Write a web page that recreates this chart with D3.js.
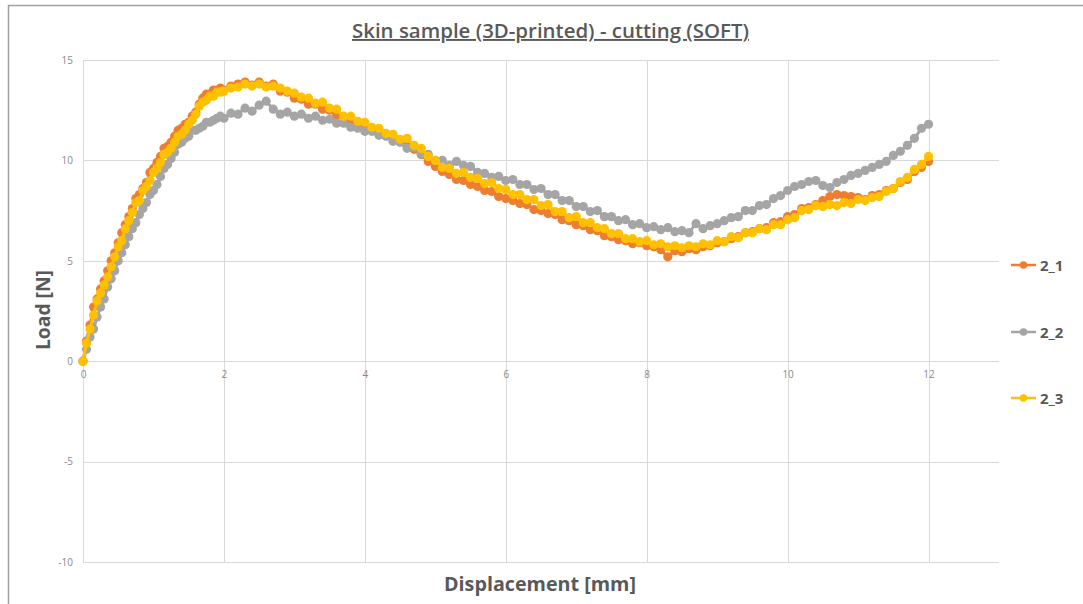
<!DOCTYPE html>
<html>
<head>
<meta charset="utf-8">
<script src="https://cdn.jsdelivr.net/npm/d3@7"></script>
<style>
  html, body { margin: 0; padding: 0; background: #ffffff; }
  svg { display: block; }
  text { font-family: "Open Sans", "Noto Sans", sans-serif; }
</style>
</head>
<body>
<svg id="chart" width="1083" height="604"></svg>
<script>
// Displacement samples [mm] shared by all three runs
const displacement = [
  0,0.05,0.1,0.15,0.2,0.25,0.3,0.35,0.4,0.45,0.5,0.55,0.6,0.65,0.7,0.75,0.8,0.85,0.9,0.95,
  1,1.05,1.1,1.15,1.2,1.25,1.3,1.35,1.4,1.45,1.5,1.55,1.6,1.65,1.7,1.75,1.8,1.85,1.9,1.95,
  2,2.1,2.2,2.3,2.4,2.5,2.6,2.7,2.8,2.9,
  3,3.1,3.2,3.3,3.4,3.5,3.6,3.7,3.8,3.9,
  4,4.1,4.2,4.3,4.4,4.5,4.6,4.7,4.8,4.9,
  5,5.1,5.2,5.3,5.4,5.5,5.6,5.7,5.8,5.9,
  6,6.1,6.2,6.3,6.4,6.5,6.6,6.7,6.8,6.9,
  7,7.1,7.2,7.3,7.4,7.5,7.6,7.7,7.8,7.9,
  8,8.1,8.2,8.3,8.4,8.5,8.6,8.7,8.8,8.9,
  9,9.1,9.2,9.3,9.4,9.5,9.6,9.7,9.8,9.9,
  10,10.1,10.2,10.3,10.4,10.5,10.6,10.7,10.8,10.9,
  11,11.1,11.2,11.3,11.4,11.5,11.6,11.7,11.8,11.9,
  12
];

// Load [N] for run 2_1
const load_2_1 = [
  0,1.0,1.8,2.7,3.1,3.6,4.0,4.5,5.0,5.4,5.9,6.4,6.8,7.2,7.6,8.1,8.3,8.6,8.9,9.4,
  9.6,9.9,10.2,10.6,10.7,10.9,11.2,11.5,11.6,11.8,11.9,12.2,12.4,12.8,13.1,13.3,13.3,13.5,13.5,13.6,
  13.5,13.7,13.8,13.9,13.75,13.9,13.7,13.8,13.45,13.4,
  13.1,13.05,12.8,12.8,12.55,12.5,12.25,12.15,11.95,11.9,
  11.7,11.6,11.35,11.3,11.05,10.95,10.7,10.55,10.3,9.95,
  9.7,9.45,9.3,9.05,9.0,8.8,8.7,8.5,8.45,8.2,
  8.1,8.0,7.85,7.8,7.55,7.5,7.35,7.3,7.05,7.0,
  6.8,6.75,6.55,6.5,6.25,6.2,6.05,6.0,5.85,5.9,
  5.75,5.7,5.55,5.2,5.5,5.45,5.6,5.55,5.7,5.75,
  5.9,5.95,6.1,6.2,6.4,6.45,6.6,6.65,6.9,6.95,
  7.2,7.3,7.6,7.65,7.8,8.0,8.2,8.3,8.25,8.2,
  8.15,8.05,8.25,8.3,8.5,8.6,8.9,9.05,9.45,9.65,
  9.95
];

// Load [N] for run 2_2
const load_2_2 = [
  0,0.6,1.2,1.6,2.2,2.7,3.1,3.7,4.1,4.5,5.0,5.4,5.8,6.2,6.6,6.9,7.3,7.6,7.9,8.3,
  8.5,8.8,9.2,9.6,9.8,10.1,10.4,10.8,10.9,11.1,11.2,11.5,11.5,11.6,11.7,11.9,11.9,12.0,12.1,12.2,
  12.1,12.35,12.3,12.6,12.45,12.75,12.95,12.55,12.3,12.4,
  12.2,12.3,12.1,12.2,12.0,12.05,11.85,11.85,11.65,11.6,
  11.45,11.45,11.25,11.2,10.95,10.9,10.6,10.65,10.35,10.3,
  10.0,10.0,9.75,9.95,9.75,9.7,9.4,9.35,9.15,9.2,
  9.0,9.05,8.8,8.8,8.55,8.6,8.3,8.3,8.0,8.0,
  7.7,7.7,7.45,7.5,7.2,7.2,7.0,7.05,6.8,6.85,
  6.65,6.7,6.55,6.65,6.45,6.5,6.4,6.85,6.6,6.75,
  6.85,7.0,7.15,7.2,7.5,7.5,7.75,7.8,8.1,8.25,
  8.5,8.7,8.8,8.95,9.0,8.75,8.65,8.9,9.05,9.25,
  9.35,9.5,9.65,9.8,9.95,10.25,10.45,10.75,11.1,11.6,
  11.8
];

// Load [N] for run 2_3
const load_2_3 = [
  0,0.9,1.6,2.3,3.0,3.4,3.8,4.2,4.7,5.2,5.7,6.0,6.6,7.0,7.4,7.9,8.0,8.5,8.7,9.0,
  9.4,9.6,9.9,10.3,10.4,10.6,10.9,11.2,11.3,11.5,11.8,12.0,12.3,12.7,12.9,13.0,13.2,13.2,13.4,13.4,
  13.45,13.6,13.65,13.8,13.7,13.8,13.65,13.7,13.6,13.45,
  13.35,13.15,13.1,12.85,12.9,12.6,12.55,12.2,12.2,11.95,
  11.9,11.65,11.6,11.35,11.3,11.05,11.1,10.75,10.6,10.2,
  10.0,9.65,9.6,9.35,9.4,9.15,9.1,8.85,8.9,8.6,
  8.55,8.3,8.3,8.05,8.05,7.75,7.8,7.45,7.45,7.15,
  7.2,6.9,6.9,6.65,6.6,6.35,6.35,6.1,6.1,5.95,
  6.0,5.8,5.85,5.7,5.75,5.65,5.75,5.7,5.85,5.8,
  6.0,5.95,6.2,6.15,6.4,6.4,6.6,6.55,6.8,6.8,
  7.05,7.15,7.5,7.55,7.75,7.7,7.8,7.75,7.9,7.85,
  8.05,8.0,8.15,8.2,8.45,8.6,8.95,9.15,9.55,9.8,
  10.2
];

const seriesNames = ["2_1", "2_2", "2_3"];
const seriesLoads = [load_2_1, load_2_2, load_2_3];
const seriesColors = ["#ED7D31", "#A5A5A5", "#FFC000"];

const xTicks = [0, 2, 4, 6, 8, 10, 12];
const yTicks = [-10, -5, 0, 5, 10, 15];

const titleText = "Skin sample (3D-printed) - cutting (SOFT)";
const xTitle = "Displacement [mm]";
const yTitle = "Load [N]";

const svg = d3.select("#chart");

// chart frame
svg.append("rect")
  .attr("x", 8.5).attr("y", 5.5)
  .attr("width", 1200).attr("height", 700)
  .attr("fill", "#ffffff")
  .attr("stroke", "#a0a0a0")
  .attr("stroke-width", 1.5);

const x = d3.scaleLinear().domain([0, 13]).range([83, 999]);
const y = d3.scaleLinear().domain([-10, 15]).range([562, 60]);

// gridlines
const grid = svg.append("g").attr("stroke", "#d9d9d9").attr("stroke-width", 1);
grid.selectAll("line.h").data(yTicks).join("line")
  .attr("class", "h")
  .attr("x1", x(0)).attr("x2", x(13))
  .attr("y1", d => Math.round(y(d)) + 0.5).attr("y2", d => Math.round(y(d)) + 0.5);
grid.selectAll("line.v").data(xTicks).join("line")
  .attr("class", "v")
  .attr("y1", y(15)).attr("y2", y(-10))
  .attr("x1", d => Math.round(x(d)) + 0.5).attr("x2", d => Math.round(x(d)) + 0.5);

// axes (labels only); plain hyphen for negative values
const plain = d => String(d);
const yAxis = svg.append("g")
  .attr("transform", `translate(${x(0)},0)`)
  .call(d3.axisLeft(y).tickValues(yTicks).tickSize(0).tickPadding(10).tickFormat(plain));
const xAxis = svg.append("g")
  .attr("transform", `translate(0,${y(0)})`)
  .call(d3.axisBottom(x).tickValues(xTicks).tickSize(0).tickPadding(10).tickFormat(plain));
[xAxis, yAxis].forEach(g => {
  g.select(".domain").remove();
  g.selectAll("text")
    .attr("fill", "#8a8a8a")
    .style("font-family", "'Open Sans', sans-serif")
    .style("font-size", "10px");
});

// series: connecting line plus circular markers
const line = d3.line()
  .x((d, i) => x(displacement[i]))
  .y(d => y(d));

seriesLoads.forEach((loads, s) => {
  const g = svg.append("g").attr("class", "series-" + seriesNames[s]);
  g.append("path")
    .datum(loads)
    .attr("d", line)
    .attr("fill", "none")
    .attr("stroke", seriesColors[s])
    .attr("stroke-width", 3)
    .attr("stroke-linejoin", "round");
  g.selectAll("circle").data(loads).join("circle")
    .attr("cx", (d, i) => x(displacement[i]))
    .attr("cy", d => y(d))
    .attr("r", 4.6)
    .attr("fill", seriesColors[s]);
});

// title
svg.append("text")
  .attr("x", 550.5).attr("y", 38)
  .attr("text-anchor", "middle")
  .attr("fill", "#595959")
  .style("font-size", "19px")
  .style("font-weight", "600")
  .style("text-decoration", "underline")
  .attr("textLength", 397)
  .attr("lengthAdjust", "spacingAndGlyphs")
  .text(titleText);

// axis titles
svg.append("text")
  .attr("x", 540).attr("y", 591)
  .attr("text-anchor", "middle")
  .attr("fill", "#595959")
  .style("font-size", "19px")
  .style("font-weight", "bold")
  .attr("textLength", 192)
  .attr("lengthAdjust", "spacingAndGlyphs")
  .text(xTitle);

svg.append("text")
  .attr("transform", "translate(50,310) rotate(-90)")
  .attr("text-anchor", "middle")
  .attr("fill", "#595959")
  .style("font-size", "19px")
  .style("font-weight", "bold")
  .attr("textLength", 80)
  .attr("lengthAdjust", "spacingAndGlyphs")
  .text(yTitle);

// legend
const legendY = [265, 332, 398];
const legend = svg.append("g");
seriesNames.forEach((name, s) => {
  const item = legend.append("g").attr("transform", `translate(0,${legendY[s]})`);
  item.append("line")
    .attr("x1", 1011).attr("x2", 1036)
    .attr("y1", 0).attr("y2", 0)
    .attr("stroke", seriesColors[s]).attr("stroke-width", 2.5);
  item.append("circle")
    .attr("cx", 1023.5).attr("cy", 0).attr("r", 3.8)
    .attr("fill", seriesColors[s]);
  item.append("text")
    .attr("x", 1040).attr("y", 5.5)
    .attr("fill", "#595959")
    .style("font-size", "15px")
    .style("font-weight", "bold")
    .text(name);
});
</script>
</body>
</html>
